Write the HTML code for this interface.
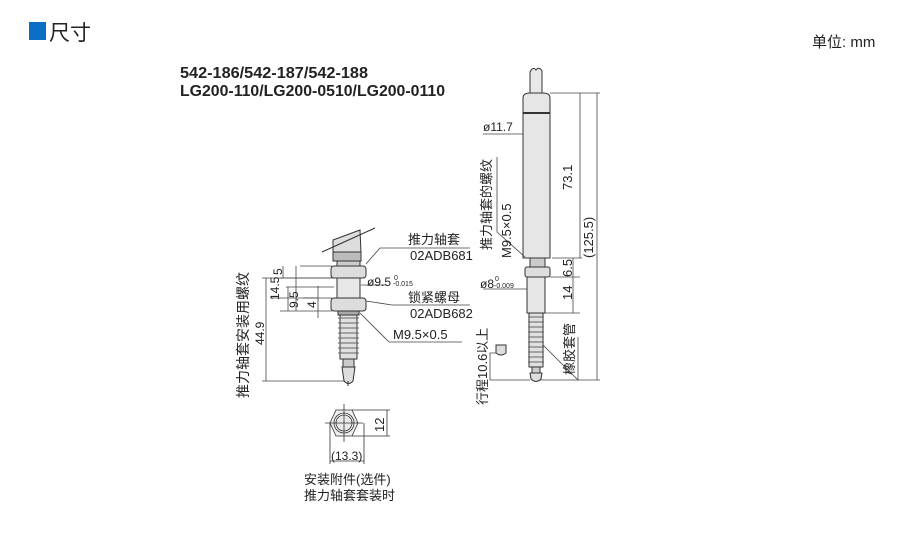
<!DOCTYPE html>
<html><head><meta charset="utf-8"><style>
html,body{margin:0;padding:0;background:#fff;}
svg{display:block}
text{font-family:"Liberation Sans","Noto Sans CJK SC",sans-serif;fill:#222}
</style></head><body>
<svg width="900" height="555" viewBox="0 0 900 555" xmlns="http://www.w3.org/2000/svg">
<rect x="29" y="22" width="17" height="18" fill="#0b6dc4"/>
<text x="49" y="40" font-size="21">尺寸</text>
<text x="812" y="47" font-size="15" fill="#444">单位: mm</text>
<text x="180" y="78" font-size="16" font-weight="bold" textLength="188" lengthAdjust="spacingAndGlyphs">542-186/542-187/542-188</text>
<text x="180" y="96" font-size="16" font-weight="bold" textLength="265" lengthAdjust="spacingAndGlyphs">LG200-110/LG200-0510/LG200-0110</text>

<g stroke="#333" stroke-width="1" fill="#e4e4e4">
<!-- left probe -->
<path d="M333 253 L333 240 L360 230 L361 253 Z" fill="#ddd"/>
<line x1="322" y1="252" x2="375" y2="228"/>
<rect x="333" y="252" width="28" height="9" fill="#bbb"/>
<rect x="337" y="261" width="23" height="6" fill="#ccc"/>
<rect x="331" y="266" width="35" height="12" rx="3" fill="#ddd"/>
<rect x="337" y="278" width="23" height="20" fill="#e8e8e8"/>
<rect x="331" y="298" width="35" height="13" rx="3" fill="#ddd"/>
<rect x="338" y="311" width="21" height="4" fill="#aaa"/>
<path d="M340 315 h17 v44 h-17 z" fill="#e0e0e0"/>
<path d="M338 318h21M338 323h21M338 328h21M338 333h21M338 338h21M338 343h21M338 348h21M338 353h21" stroke="#666"/>
<rect x="343" y="359" width="11" height="8" fill="#ccc"/>
<path d="M342 367 h13 l-2 14 q-4.5 5 -9 0 z" fill="#ddd"/>
<line x1="348" y1="381" x2="348" y2="386"/>

<g fill="none" stroke="#444" stroke-width="0.8">
<line x1="300" y1="266" x2="332" y2="266"/><line x1="280" y1="278" x2="332" y2="278"/>
<line x1="270" y1="298" x2="332" y2="298"/><line x1="300" y1="311" x2="332" y2="311"/>
<line x1="280" y1="311" x2="300" y2="311"/>
<line x1="296" y1="266" x2="296" y2="311"/>
<line x1="283" y1="266" x2="283" y2="278"/>
<line x1="262" y1="278" x2="340" y2="278"/>
<line x1="266" y1="278" x2="266" y2="381"/><line x1="262" y1="381" x2="345" y2="381"/>
<line x1="318" y1="286" x2="318" y2="318"/><line x1="303" y1="298" x2="318" y2="298"/>
<line x1="288" y1="287" x2="288" y2="311"/><line x1="286" y1="287" x2="334" y2="287"/>
<polyline points="366,264 380,248 470,248"/>
<line x1="361" y1="285" x2="385" y2="285"/>
<polyline points="366,301 392,305 470,305"/>
<polyline points="360,313 389,342 462,342"/>
</g>
</g>
<g font-size="13">
<text x="408" y="244">推力轴套</text>
<text x="410" y="260">02ADB681</text>
<text x="367" y="286" font-size="12">ø9.5</text><text x="394" y="280" font-size="7">0</text><text x="393" y="286" font-size="7">-0.015</text>
<text x="408" y="302">锁紧螺母</text>
<text x="410" y="318">02ADB682</text>
<text x="393" y="339">M9.5×0.5</text>
<text transform="translate(279,300) rotate(-90)" font-size="12">14.5</text>
<text transform="translate(282,275) rotate(-90)" font-size="12">5</text>
<text transform="translate(298,308) rotate(-90)" font-size="12">9.5</text>
<text transform="translate(316,308) rotate(-90)" font-size="12">4</text>
<text transform="translate(264,345) rotate(-90)" font-size="12">44.9</text>
<text transform="translate(248,398) rotate(-90)" font-size="14">推力轴套安装用螺纹</text>
</g>

<g stroke="#333" fill="none" stroke-width="0.8">
<polygon points="336,410 352,410 358,423 352,436 336,436 330,423" fill="#eee"/>
<circle cx="344" cy="423" r="10" fill="#f2f2f2"/>
<circle cx="344" cy="423" r="8" fill="#e8e8e8"/>
<line x1="344" y1="404" x2="344" y2="442"/><line x1="325" y1="423" x2="363" y2="423"/>
<line x1="352" y1="410" x2="390" y2="410"/><line x1="352" y1="436" x2="390" y2="436"/>
<line x1="387" y1="410" x2="387" y2="436"/>
<line x1="330" y1="423" x2="330" y2="464"/><line x1="364" y1="423" x2="364" y2="464"/>
<line x1="330" y1="461" x2="364" y2="461"/>
</g>
<text transform="translate(384,432) rotate(-90)" font-size="13">12</text>
<text x="331" y="460" font-size="12">(13.3)</text>
<text x="304" y="484" font-size="13">安装附件(选件)</text>
<text x="304" y="500" font-size="13">推力轴套套装时</text>

<g stroke="#333" stroke-width="1" fill="#e4e4e4">
<path d="M530 93 V72 q3 -6 6 -2 q3 -4 6 1 V93 Z" fill="#e8e8e8"/>
<path d="M523 98 q0 -5 7 -5 h13 q7 0 7 5 V258 h-27 Z" fill="#e6e6e6"/>
<line x1="523" y1="113" x2="550" y2="113" stroke-width="2"/>
<rect x="530" y="258" width="15" height="9" fill="#ccc"/>
<rect x="525" y="267" width="25" height="10" rx="2" fill="#ddd"/>
<rect x="527" y="277" width="18" height="36" fill="#e6e6e6"/>
<path d="M529 313 h14 v54 h-14 z" fill="#e0e0e0"/>
<path d="M528 317h16M528 322h16M528 327h16M528 332h16M528 337h16M528 342h16M528 347h16M528 352h16M528 357h16M528 362h16" stroke="#666"/>
<rect x="532" y="367" width="8" height="6" fill="#ccc"/>
<path d="M530 373 h12 l-1 6 q-5 5 -10 0 z" fill="#ddd"/>
<path d="M496 345 h10 v8 q-5 4 -10 0 z" fill="#ddd"/>
</g>
<g fill="none" stroke="#444" stroke-width="0.8">
<line x1="483" y1="134" x2="523" y2="134"/>
<polyline points="497,157 497,232 525,257"/>
<line x1="550" y1="93" x2="600" y2="93"/>
<line x1="580" y1="93" x2="580" y2="258"/>
<line x1="552" y1="258" x2="582" y2="258"/>
<line x1="550" y1="277" x2="580" y2="277"/>
<line x1="545" y1="313" x2="580" y2="313"/>
<line x1="573" y1="258" x2="573" y2="313"/>
<line x1="483" y1="289" x2="527" y2="289"/>
<line x1="597" y1="93" x2="597" y2="380"/>
<line x1="540" y1="380" x2="600" y2="380"/>
<polyline points="496,353 490,353 490,380 530,380"/>
<polyline points="543,345 578,380 578,337"/>
</g>
<g font-size="13">
<text x="483" y="131" font-size="12">ø11.7</text>
<text transform="translate(491,250) rotate(-90)">推力轴套的螺纹</text>
<text transform="translate(511,258) rotate(-90)">M9.5×0.5</text>
<text transform="translate(572,190) rotate(-90)">73.1</text>
<text transform="translate(593,258) rotate(-90)">(125.5)</text>
<text transform="translate(572,277) rotate(-90)">6.5</text>
<text transform="translate(572,300) rotate(-90)">14</text>
<text x="480" y="288" font-size="12">ø8</text><text x="495" y="281" font-size="7">0</text><text x="494" y="288" font-size="7">-0.009</text>
<text transform="translate(487,405) rotate(-90)">行程10.6以上</text>
<text transform="translate(574,375) rotate(-90)">橡胶套管</text>
</g>
</svg>
</body></html>
